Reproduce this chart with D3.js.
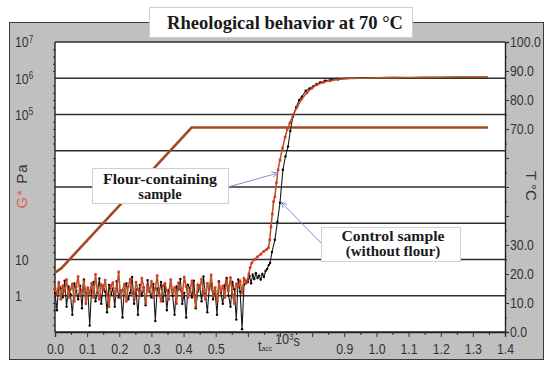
<!DOCTYPE html>
<html>
<head>
<meta charset="utf-8">
<script src="https://cdn.jsdelivr.net/npm/d3@7"></script>
<style>
    body { margin: 0; background: #fff; }
    .num { font-family: 'Liberation Sans', Arial, sans-serif; font-size: 15px; fill: #333; }
    .lbl { font-family: 'Liberation Sans', Arial, sans-serif; font-size: 15px; fill: #333; }
    .bold { font-family: 'Liberation Serif', 'DejaVu Serif', serif; font-weight: bold; fill: #1a1a1a; }
</style>
</head>
<body>
<svg id="chart" width="550" height="368"></svg>
<script>
// ---- data ----
// x values in 10^3 s, G* in Pa, T in °C
var xTicks = [0, 0.1, 0.2, 0.3, 0.4, 0.5, 0.6, 0.7, 0.8, 0.9, 1.0, 1.1, 1.2, 1.3, 1.4];
var tTicks = [0, 10, 20, 30, 40, 50, 60, 70, 80, 90, 100];
var gDecades = [0.1, 1, 10, 100, 1e3, 1e4, 1e5, 1e6, 1e7];
var gLabels = [[1e7, "10", "7"], [1e6, "10", "6"], [1e5, "10", "5"], [10, "10", ""], [1, "1", ""]];

var temperature = [[0, 20.5], [0.02, 22], [0.425, 70.5], [1.347, 70.5]];

// sampling interval of the noisy start (10^3 s)
var noiseStep = 0.006;
var flourNoise = [
    1.6, 1.1, 2.4, 0.8, 1.9, 1.3, 2.8, 0.9, 1.5, 2.1, 0.7, 1.8, 3.4, 1.0, 1.4, 2.6, 0.6, 1.7, 1.2, 2.2,
    0.9, 3.9, 1.3, 0.8, 2.0, 1.5, 2.7, 1.1, 0.5, 1.9, 2.3, 1.0, 1.6, 4.6, 0.9, 1.4, 2.1, 0.7, 1.8, 2.9,
    1.2, 0.8, 2.4, 1.5, 1.0, 3.1, 1.7, 0.6, 2.0, 1.3, 2.5, 0.9, 1.6, 3.6, 1.1, 0.7, 1.9, 2.2, 1.4, 0.8,
    2.8, 1.2, 1.7, 0.6, 2.3, 1.5, 1.0, 3.3, 1.8, 0.9, 1.4, 2.6, 1.1, 0.5, 2.0, 1.6, 2.9, 1.2, 0.8, 2.2,
    1.5, 3.8, 1.0, 1.7, 0.7, 2.4, 1.3, 1.9, 0.9, 2.7, 1.4, 3.2, 1.1, 0.6, 2.1, 1.8, 2.5, 1.2, 3.0, 2.2
];
var controlNoise = [
    1.2, 0.4, 2.1, 1.6, 0.9, 2.6, 0.5, 1.8, 1.1, 0.3, 2.2, 1.4, 0.8, 1.9, 0.45, 2.8, 1.0, 1.5, 0.15, 1.7,
    2.4, 0.7, 1.2, 3.0, 0.6, 1.9, 1.3, 0.35, 2.0, 1.1, 1.6, 0.5, 2.5, 0.9, 1.4, 0.25, 1.8, 2.2, 0.8, 1.2,
    3.3, 0.6, 1.5, 0.3, 2.0, 1.0, 1.7, 0.55, 2.7, 1.3, 0.9, 2.1, 0.2, 1.6, 1.2, 2.4, 0.7, 1.9, 0.4, 1.4,
    2.3, 1.0, 0.3, 1.8, 1.5, 2.9, 0.6, 1.2, 0.25, 2.0, 1.6, 0.9, 2.6, 0.45, 1.3, 1.9, 0.7, 3.4, 1.1, 0.35,
    1.7, 2.2, 0.8, 1.4, 0.3, 2.5, 1.2, 0.6, 1.9, 3.1, 1.0, 0.5, 2.4, 1.5, 0.22, 2.8, 1.3, 0.12, 2.0, 2.6
];

var flourRise = [
    [0.598, 2.6], [0.603, 4], [0.607, 6], [0.612, 8], [0.620, 10], [0.630, 12], [0.640, 14], [0.650, 17],
    [0.658, 19], [0.664, 21], [0.668, 35], [0.672, 80], [0.676, 180], [0.680, 400], [0.684, 540],
    [0.689, 1300], [0.694, 3000], [0.700, 5600], [0.708, 1.2e4], [0.716, 2.4e4], [0.723, 4e4],
    [0.731, 5.9e4], [0.742, 1.0e5], [0.753, 1.6e5], [0.768, 2.7e5], [0.784, 4e5], [0.800, 5.4e5],
    [0.815, 6.6e5], [0.835, 7.8e5], [0.856, 8.5e5], [0.880, 9.2e5], [0.920, 9.8e5], [0.980, 1.02e6],
    [1.05, 1.04e6], [1.10, 1.05e6], [1.15, 1.06e6], [1.20, 1.07e6], [1.25, 1.08e6], [1.30, 1.09e6], [1.347, 1.1e6]
];
var controlRise = [
    [0.600, 2.4], [0.605, 3.5], [0.610, 2.2], [0.615, 3.8], [0.620, 2.9], [0.625, 4.2], [0.630, 3.1],
    [0.635, 3.6], [0.640, 2.8], [0.645, 4.0], [0.650, 3.3], [0.655, 4.8], [0.660, 5.5], [0.665, 7],
    [0.669, 8], [0.675, 16], [0.684, 35], [0.692, 110], [0.700, 370], [0.709, 3000], [0.717, 7000],
    [0.725, 1.3e4], [0.732, 3.5e4], [0.740, 8.7e4], [0.750, 1.6e5], [0.760, 2.5e5], [0.768, 3.1e5],
    [0.780, 4.5e5], [0.792, 5.2e5], [0.803, 5.9e5], [0.814, 7e5], [0.825, 7.6e5], [0.840, 8.5e5],
    [0.860, 9.2e5], [0.880, 9.7e5], [0.900, 1.0e6], [0.930, 1.02e6], [0.960, 1.05e6], [1.00, 1.04e6],
    [1.05, 1.06e6], [1.10, 1.05e6], [1.15, 1.07e6], [1.20, 1.06e6], [1.25, 1.08e6], [1.30, 1.07e6], [1.347, 1.09e6]
];

(function () {
    // ---- build series ----
    var flour = flourNoise.map(function (v, i) { return [i * noiseStep, v]; }).concat(flourRise);
    var control = controlNoise.map(function (v, i) { return [i * noiseStep, v]; }).concat(controlRise);
    // markers only where the measurement is still moving; plateau is drawn as a plain line
    var markFilter = function (d) { return d[0] < 0.9; };

    var svg = d3.select("#chart");
    var pl = 55, pr = 505, pt = 42, pb = 332;

    var x = d3.scaleLinear().domain([0, 1.4]).range([pl, pr]);
    var g = d3.scaleLog().domain([0.1, 1e7]).range([pb, pt]);
    var t = d3.scaleLinear().domain([0, 100]).range([pb, pt]);

    // grey panel + white plot area
    svg.append("rect").attr("x", 9.5).attr("y", 22.5).attr("width", 534).attr("height", 337)
        .attr("fill", "#c0c0c0").attr("stroke", "#3a3a3a");
    svg.append("rect").attr("x", pl).attr("y", pt).attr("width", pr - pl).attr("height", pb - pt)
        .attr("fill", "#fff");

    // decade grid lines
    svg.append("g").selectAll("line").data(gDecades).enter().append("line")
        .attr("x1", pl).attr("x2", pr)
        .attr("y1", function (d) { return g(d); }).attr("y2", function (d) { return g(d); })
        .attr("stroke", "#2e2e2e").attr("stroke-width", 1.4);

    // left axis: minor ticks + line
    var minorG = [];
    gDecades.slice(0, -1).forEach(function (d) {
        [0.2, 0.4, 0.6, 0.8].forEach(function (f) { minorG.push(d * Math.pow(10, f)); });
    });
    svg.append("g").attr("transform", "translate(" + pl + ",0)")
        .call(d3.axisLeft(g).tickValues(minorG).tickSize(2).tickFormat(""))
        .call(function (a) { a.select(".domain").remove(); a.selectAll("line").attr("stroke", "#333"); });
    svg.append("line").attr("x1", pl).attr("x2", pl).attr("y1", pt).attr("y2", pb)
        .attr("stroke", "#222").attr("stroke-width", 1.4);

    var gl = svg.append("g").selectAll("text").data(gLabels).enter().append("text")
        .attr("class", "num")
        .attr("transform", function (d) { return "translate(15," + g(d[0]) + ") scale(0.82,1)"; })
        .attr("dy", "0.35em");
    gl.append("tspan").text(function (d) { return d[1]; });
    gl.append("tspan").attr("dy", "-0.45em").attr("font-size", "10px").text(function (d) { return d[2]; });

    // bottom axis
    svg.append("g").attr("transform", "translate(0," + pb + ")")
        .call(d3.axisBottom(x).tickValues(xTicks.map(function (d) { return d + 0.05; }).filter(function (d) { return d < 1.4; }))
            .tickSize(3).tickFormat(""))
        .call(function (a) { a.select(".domain").remove(); a.selectAll("line").attr("stroke", "#333"); });
    svg.append("g").attr("transform", "translate(0," + pb + ")")
        .call(d3.axisBottom(x).tickValues(xTicks).tickSize(5).tickPadding(6)
            .tickFormat(function (d) { return (d > 0.55 && d < 0.85) ? "" : d.toFixed(1); }))
        .call(function (a) {
            a.select(".domain").attr("stroke", "#222").attr("stroke-width", 1.4);
            a.selectAll("line").attr("stroke", "#333");
            a.selectAll("text").attr("class", "num").attr("font-family", null).attr("font-size", null)
                .attr("fill", null).attr("transform", "scale(0.82,1)");
        });

    // right axis
    svg.append("g").attr("transform", "translate(" + pr + ",0)")
        .call(d3.axisRight(t).tickValues(tTicks.map(function (d) { return d + 5; }).filter(function (d) { return d < 100; }))
            .tickSize(2).tickFormat(""))
        .call(function (a) { a.select(".domain").remove(); a.selectAll("line").attr("stroke", "#333"); });
    svg.append("g").attr("transform", "translate(" + pr + ",0)")
        .call(d3.axisRight(t).tickValues(tTicks).tickSize(4).tickPadding(2)
            .tickFormat(function (d) { return (d >= 40 && d <= 60) ? "" : d.toFixed(1); }))
        .call(function (a) {
            a.select(".domain").attr("stroke", "#222").attr("stroke-width", 1.4);
            a.selectAll("line").attr("stroke", "#333");
            a.selectAll("text").attr("class", "num").attr("font-family", null).attr("font-size", null)
                .attr("fill", null).attr("x", 0).attr("transform", "translate(5,0) scale(0.82,1)");
        });

    // axis titles
    var yl = svg.append("text").attr("class", "lbl").attr("text-anchor", "middle")
        .attr("letter-spacing", "1px")
        .attr("transform", "translate(27,186) rotate(-90)");
    yl.append("tspan").attr("fill", "#e0605a").text("G*");
    yl.append("tspan").text(" Pa");

    svg.append("text").attr("class", "lbl").attr("text-anchor", "middle")
        .attr("transform", "translate(526,186) rotate(90)").text("T °C");

    var xl = svg.append("text").attr("class", "num").attr("transform", "translate(258,351) scale(0.85,1)");
    xl.append("tspan").text("t");
    xl.append("tspan").attr("font-size", "8px").text("acc");
    var xl2 = svg.append("text").attr("class", "num").attr("font-size", "14px")
        .attr("transform", "translate(275,344) scale(0.85,1)");
    xl2.append("tspan").text("10");
    xl2.append("tspan").attr("dy", "-0.4em").attr("font-size", "9px").text("3");
    xl2.append("tspan").attr("dy", "0.4em").text("s");

    // temperature
    svg.append("path").datum(temperature)
        .attr("d", d3.line().x(function (d) { return x(d[0]); }).y(function (d) { return t(d[1]); }))
        .attr("fill", "none").attr("stroke", "#a44a22").attr("stroke-width", 2.6);

    // G* curves
    var gLine = d3.line().x(function (d) { return x(d[0]); }).y(function (d) { return g(d[1]); });

    svg.append("path").datum(control).attr("d", gLine)
        .attr("fill", "none").attr("stroke", "#1a1a1a").attr("stroke-width", 1.1);
    svg.append("g").selectAll("circle").data(control.filter(markFilter)).enter().append("circle")
        .attr("cx", function (d) { return x(d[0]); }).attr("cy", function (d) { return g(d[1]); })
        .attr("r", 1.2).attr("fill", "#000");

    svg.append("path").datum(flour).attr("d", gLine)
        .attr("fill", "none").attr("stroke", "#b8582a").attr("stroke-width", 1.6);
    svg.append("g").selectAll("circle").data(flour.filter(markFilter)).enter().append("circle")
        .attr("cx", function (d) { return x(d[0]); }).attr("cy", function (d) { return g(d[1]); })
        .attr("r", 1.5).attr("fill", "#e8261e").attr("fill-opacity", 0.85);

    // annotations
    var defs = svg.append("defs");
    defs.append("marker").attr("id", "arr").attr("viewBox", "0 0 10 10").attr("refX", 9).attr("refY", 5)
        .attr("markerWidth", 7).attr("markerHeight", 7).attr("orient", "auto")
        .append("path").attr("d", "M0,1 L9,5 L0,9").attr("fill", "none").attr("stroke", "#7d8fd0").attr("stroke-width", 1.3);

    svg.append("line").attr("x1", 228).attr("y1", 187).attr("x2", 278).attr("y2", 173)
        .attr("stroke", "#7d8fd0").attr("stroke-width", 1).attr("marker-end", "url(#arr)");
    svg.append("line").attr("x1", 321).attr("y1", 243).attr("x2", 281).attr("y2", 202)
        .attr("stroke", "#7d8fd0").attr("stroke-width", 1).attr("marker-end", "url(#arr)");

    svg.append("rect").attr("x", 92.5).attr("y", 168.5).attr("width", 136).attr("height", 35)
        .attr("fill", "#fff").attr("stroke", "#d0d0d0");
    svg.append("text").attr("class", "bold").attr("font-size", "14.5px").attr("text-anchor", "middle")
        .attr("x", 160).attr("y", 183.5).attr("textLength", 114).attr("lengthAdjust", "spacingAndGlyphs").text("Flour-containing");
    svg.append("text").attr("class", "bold").attr("font-size", "14.5px").attr("text-anchor", "middle")
        .attr("x", 160).attr("y", 198.5).text("sample");

    svg.append("rect").attr("x", 321.5).attr("y", 227.5).attr("width", 139).attr("height", 34)
        .attr("fill", "#fff").attr("stroke", "#d0d0d0");
    svg.append("text").attr("class", "bold").attr("font-size", "15px").attr("text-anchor", "middle")
        .attr("x", 393).attr("y", 241).attr("textLength", 103).attr("lengthAdjust", "spacingAndGlyphs").text("Control sample");
    svg.append("text").attr("class", "bold").attr("font-size", "15px").attr("text-anchor", "middle")
        .attr("x", 393).attr("y", 256).text("(without flour)");

    // title
    svg.append("rect").attr("x", 149.5).attr("y", 7.5).attr("width", 263).attr("height", 30)
        .attr("fill", "#fff").attr("stroke", "#d0d0d0");
    svg.append("text").attr("class", "bold").attr("font-size", "19px").attr("text-anchor", "middle")
        .attr("x", 285).attr("y", 29).attr("textLength", 236).attr("lengthAdjust", "spacingAndGlyphs")
        .text("Rheological behavior at 70 °C");
})();
</script>
</body>
</html>
